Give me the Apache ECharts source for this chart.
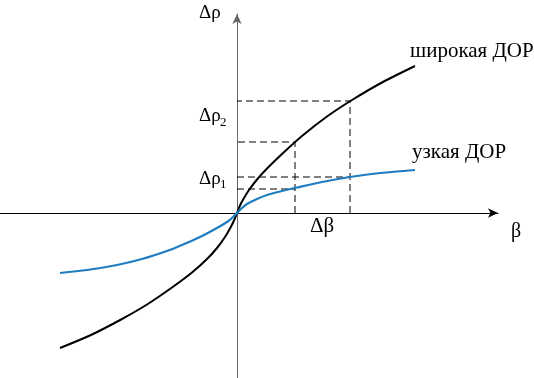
<!DOCTYPE html>
<html><head><meta charset="utf-8">
<script src="https://cdn.jsdelivr.net/npm/echarts@6/dist/echarts.min.js"></script>
<style>html,body{margin:0;padding:0;background:#fff}#c{width:534px;height:378px}</style>
</head><body><div id="c"></div>
<script>
// β (horizontal) and Δρ (vertical) values (units relative to origin)
const betaWide = [-177, -145, -115, -90, -65, -45, -30, -20, -12, -7, -3, 0, 3, 7, 12, 20, 30, 45, 65, 90, 115, 145, 178];
const rhoWide  = [-135, -121.5, -106, -91.5, -74.5, -59.5, -46, -35, -24, -15.5, -7.5, 0, 7.5, 15, 23, 33.5, 44.5, 59, 77, 96.5, 113, 130.5, 147];
const betaNarrow = [-177, -150, -120, -95, -70, -55, -37, -20, -10, -5, 0, 5, 10, 20, 30, 45, 60, 85, 113, 143, 178];
const rhoNarrow  = [-60, -57, -52, -46, -38, -32, -24, -15, -9, -5, 0, 5, 9, 14, 18, 22, 25.5, 31, 36, 40, 43];
const dBeta = [58, 113];
const dRho1 = [24, 36];
const dRho2 = [71, 112];

const pairs = (xs, ys) => xs.map((x, i) => [x, ys[i]]);
const dashStyle = {color:'#000', width:1, type:[7,4]};
const dashed = [];
dBeta.forEach((b, i) => {
  dashed.push([[b, 0], [b, dRho2[i]], [0, dRho2[i]]]);
  dashed.push([[0, dRho1[i]], [b, dRho1[i]]]);
});

const serif = '"Liberation Serif", "Times New Roman", serif';
const txt = (text, left, top, size) => ({type:'text', left, top, style:{text, fontSize:size, fontFamily:serif, fill:'#000'}});

const chart = echarts.init(document.getElementById('c'));
chart.setOption({
  animation:false,
  grid:{left:0, top:14, width:498, height:364},
  xAxis:{type:'value', min:-237, max:261, splitLine:{show:false}, axisTick:{show:false}, axisLabel:{show:false},
    axisLine:{onZero:true, lineStyle:{color:'#000', width:1}, symbol:['none','arrow'], symbolSize:[7,10], symbolOffset:[0,0]}},
  yAxis:{type:'value', min:-165, max:199, splitLine:{show:false}, axisTick:{show:false}, axisLabel:{show:false},
    axisLine:{onZero:true, lineStyle:{color:'#666', width:1}, symbol:['none','arrow'], symbolSize:[7,10], symbolOffset:[0,0]}},
  series:[
    ...dashed.map(d => ({type:'line', data:d, symbol:'none', lineStyle:dashStyle, silent:true})),
    {type:'line', data:pairs(betaWide, rhoWide), smooth:0.3, symbol:'none', lineStyle:{color:'#000', width:2}},
    {type:'line', data:pairs(betaNarrow, rhoNarrow), smooth:0.3, symbol:'none', lineStyle:{color:'#1f7cc1', width:2.2}}
  ],
  graphic:[
    txt('Δρ', 199, 4, 19),
    txt('β', 511, 222, 20),
    txt('Δβ', 310, 216, 21),
    txt('Δρ', 199, 107, 19),
    txt('2', 220, 116, 13),
    txt('Δρ', 199, 170, 19),
    txt('1', 220, 178, 13),
    txt('широкая ДОР', 410, 41, 21),
    txt('узкая ДОР', 412, 142, 21)
  ]
});
</script></body></html>
